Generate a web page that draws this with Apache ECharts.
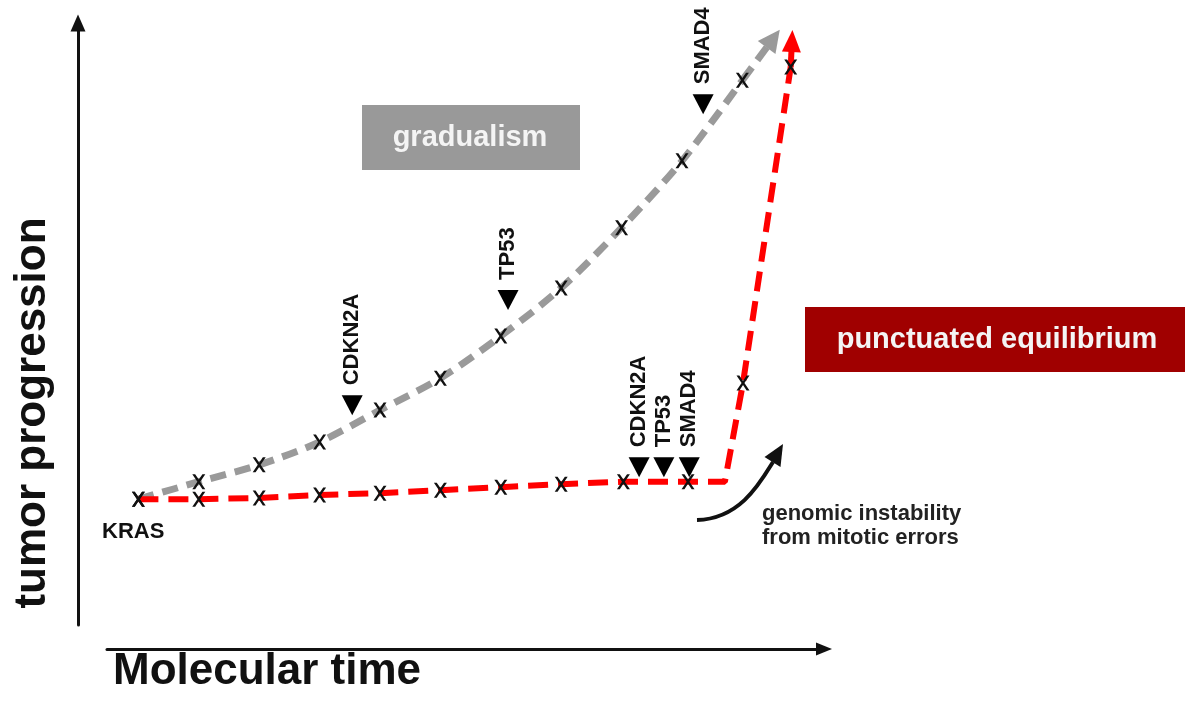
<!DOCTYPE html>
<html>
<head>
<meta charset="utf-8">
<title>gradualism vs punctuated equilibrium</title>
<script src="https://cdn.jsdelivr.net/npm/echarts@6/dist/echarts.min.js"></script>
<style>
    html, body { margin: 0; padding: 0; background: #fff; }
    #main { width: 1185px; height: 703px; }
</style>
</head>
<body>
<div id="main"></div>
<script>
// molecular time (x) / tumor progression (y)
var grayTime = [1, 2, 3, 4, 5, 6, 7, 8, 9, 10, 11];
var grayProg = [20.9, 23.8, 26.6, 30.4, 35.7, 41.0, 48.0, 56.0, 66.0, 77.1, 90.5];
var grayTip = [11.51, 97.4];

var redTime = [1, 2, 3, 4, 5, 6, 7, 8, 9.03, 10.1, 11.01, 11.8];
var redProg = [20.9, 20.9, 21.1, 21.6, 21.9, 22.4, 22.9, 23.4, 23.8, 23.8, 40.2, 92.7];
var redBreak = [10.71, 23.8]; // end of the flat phase
var redTip = [11.82, 97.0];

var geneNames = ['CDKN2A', 'TP53', 'SMAD4', 'CDKN2A', 'TP53', 'SMAD4'];
var geneTime = [4.54, 7.12, 10.35, 9.29, 9.70, 10.12];
var geneProg = [36.5, 54.0, 86.5, 26.2, 26.2, 26.2];

var FONT = '"Liberation Sans", Arial, sans-serif';
var XMARK = 'path://M0,0L2.2,0L5,3.6L7.8,0L10,0L6.1,5L10,10L7.8,10L5,6.4L2.2,10L0,10L3.9,5Z';

function zip(a, b) {
    var out = [];
    for (var i = 0; i < a.length; i++) out.push([a[i], b[i]]);
    return out;
}

var grayPts = zip(grayTime, grayProg);
var redPts = zip(redTime, redProg);
// red path: flat part, the break, then the jump
var redPath = redPts.slice(0, 10).concat([redBreak]).concat(redPts.slice(10));
var genePts = [];
for (var i = 0; i < geneNames.length; i++) {
    genePts.push({ name: geneNames[i], value: [geneTime[i], geneProg[i]] });
}

var myChart = echarts.init(document.getElementById('main'));

myChart.setOption({
    animation: false,
    backgroundColor: '#fff',
    grid: [
        { left: 78, right: 261.4, top: 23, bottom: 78 },
        { left: 107, width: 717, top: 648, height: 1 }
    ],
    xAxis: [
        { gridIndex: 0, type: 'value', min: 0, max: 14, show: false },
        {
            gridIndex: 1, type: 'value', min: 0, max: 1,
            axisLine: { show: true, onZero: false, symbol: ['none', 'triangle'], symbolSize: [13, 16],
                lineStyle: { color: '#111', width: 3 } },
            axisTick: { show: false }, axisLabel: { show: false }, splitLine: { show: false }
        }
    ],
    yAxis: [
        {
            gridIndex: 0, type: 'value', min: 0, max: 100,
            axisLine: { show: true, onZero: false, symbol: ['none', 'triangle'], symbolSize: [15, 17],
                lineStyle: { color: '#111', width: 3 } },
            axisTick: { show: false }, axisLabel: { show: false }, splitLine: { show: false }
        },
        { gridIndex: 1, type: 'value', min: 0, max: 1, show: false }
    ],
    series: [
        {
            name: 'gradualism',
            type: 'line',
            data: grayPts,
            smooth: 0.3,
            showSymbol: false,
            lineStyle: { color: '#9a9a9a', width: 7, type: [16, 9], cap: 'butt' },
            markLine: {
                silent: true,
                symbol: ['none', 'triangle'],
                symbolSize: [22, 22],
                label: { show: false },
                lineStyle: { color: '#9a9a9a', width: 7, type: [16, 9], cap: 'butt' },
                data: [[{ coord: grayPts[grayPts.length - 1] }, { coord: grayTip }]]
            }
        },
        {
            name: 'punctuated equilibrium',
            type: 'line',
            data: redPath,
            showSymbol: false,
            lineStyle: { color: '#ff0000', width: 6, type: [20, 10], cap: 'butt' },
            markLine: {
                silent: true,
                symbol: ['none', 'triangle'],
                symbolSize: [19, 22],
                label: { show: false },
                lineStyle: { color: '#ff0000', width: 6, type: [20, 10], cap: 'butt' },
                data: [[{ coord: redPts[redPts.length - 1] }, { coord: redTip }]]
            }
        },
        {
            type: 'scatter',
            data: grayPts,
            symbol: XMARK,
            symbolSize: [13, 15],
            itemStyle: { color: '#111', opacity: 1 },
            z: 5
        },
        {
            type: 'scatter',
            data: redPts,
            symbol: XMARK,
            symbolSize: [13, 15],
            itemStyle: { color: '#111', opacity: 1 },
            z: 5
        },
        {
            // mutation hits
            type: 'scatter',
            data: genePts,
            symbol: 'triangle',
            symbolRotate: 180,
            symbolSize: [21, 20],
            itemStyle: { color: '#000', opacity: 1 },
            label: {
                show: true,
                position: 'top',
                distance: 10,
                rotate: 90,
                align: 'left',
                verticalAlign: 'middle',
                formatter: '{b}',
                fontFamily: FONT,
                fontWeight: 'bold',
                fontSize: 22,
                color: '#111'
            },
            z: 6
        }
    ],
    graphic: [
        {
            type: 'text', x: 33, y: 413, rotation: Math.PI / 2,
            style: { text: 'tumor progression', font: 'bold 44px ' + FONT, fill: '#111', align: 'center', verticalAlign: 'middle' }
        },
        {
            type: 'text', x: 113, y: 672,
            style: { text: 'Molecular time', font: 'bold 44px ' + FONT, fill: '#111', align: 'left', verticalAlign: 'middle' }
        },
        {
            type: 'text', x: 102, y: 532,
            style: { text: 'KRAS', font: 'bold 22px ' + FONT, fill: '#111', align: 'left', verticalAlign: 'middle' }
        },
        {
            type: 'rect', shape: { x: 362, y: 105, width: 218, height: 65 },
            style: { fill: '#999999' }
        },
        {
            type: 'text', x: 470, y: 138,
            style: { text: 'gradualism', font: 'bold 29px ' + FONT, fill: '#f4f4f4', align: 'center', verticalAlign: 'middle' }
        },
        {
            type: 'rect', shape: { x: 805, y: 307, width: 380, height: 65 },
            style: { fill: '#a00000' }
        },
        {
            type: 'text', x: 997, y: 340,
            style: { text: 'punctuated equilibrium', font: 'bold 29px ' + FONT, fill: '#f4f4f4', align: 'center', verticalAlign: 'middle' }
        },
        // curved arrow
        {
            type: 'bezierCurve',
            shape: { x1: 697, y1: 520, cpx1: 740, cpy1: 519, cpx2: 760, cpy2: 483, x2: 773, y2: 462 },
            style: { stroke: '#111', lineWidth: 4, fill: null }
        },
        {
            type: 'polygon',
            shape: { points: [[783, 444], [780.5, 467], [764.5, 457]] },
            style: { fill: '#111' }
        },
        {
            type: 'text', x: 762, y: 526,
            style: { text: 'genomic instability\nfrom mitotic errors', font: 'bold 22px ' + FONT, lineHeight: 24,
                fill: '#222', align: 'left', verticalAlign: 'middle' }
        }
    ]
});
</script>
</body>
</html>
